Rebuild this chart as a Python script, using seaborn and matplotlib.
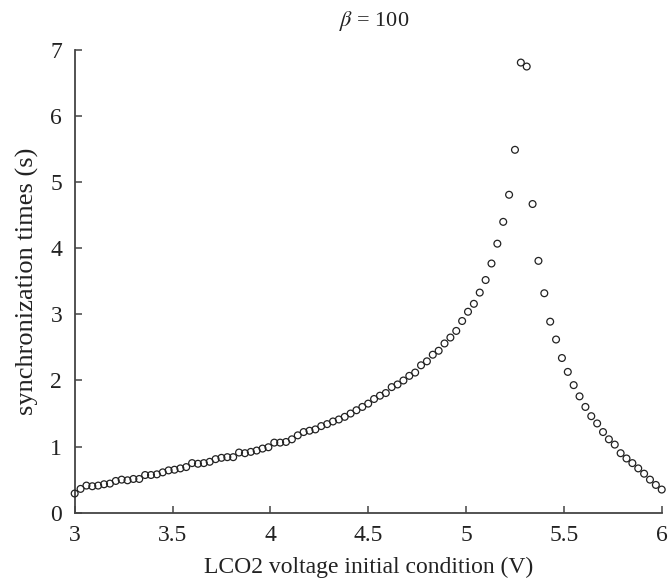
import matplotlib
matplotlib.use("Agg")
import matplotlib.pyplot as plt
import seaborn as sns
import pandas as pd

# ---- data ----
voltage = [
    3.00, 3.03, 3.06, 3.09, 3.12, 3.15, 3.18, 3.21, 3.24, 3.27,
    3.30, 3.33, 3.36, 3.39, 3.42, 3.45, 3.48, 3.51, 3.54, 3.57,
    3.60, 3.63, 3.66, 3.69, 3.72, 3.75, 3.78, 3.81, 3.84, 3.87,
    3.90, 3.93, 3.96, 3.99, 4.02, 4.05, 4.08, 4.11, 4.14, 4.17,
    4.20, 4.23, 4.26, 4.29, 4.32, 4.35, 4.38, 4.41, 4.44, 4.47,
    4.50, 4.53, 4.56, 4.59, 4.62, 4.65, 4.68, 4.71, 4.74, 4.77,
    4.80, 4.83, 4.86, 4.89, 4.92, 4.95, 4.98, 5.01, 5.04, 5.07,
    5.10, 5.13, 5.16, 5.19, 5.22, 5.25, 5.28, 5.31, 5.34, 5.37,
    5.40, 5.43, 5.46, 5.49, 5.52, 5.55, 5.58, 5.61, 5.64, 5.67,
    5.70, 5.73, 5.76, 5.79, 5.82, 5.85, 5.88, 5.91, 5.94, 5.97,
    6.00,
]
sync_time = [
    0.29, 0.36, 0.41, 0.40, 0.41, 0.43, 0.44, 0.48, 0.50, 0.49,
    0.51, 0.51, 0.57, 0.57, 0.58, 0.61, 0.64, 0.65, 0.67, 0.69,
    0.75, 0.74, 0.75, 0.77, 0.81, 0.83, 0.84, 0.84, 0.91, 0.90,
    0.92, 0.94, 0.97, 0.99, 1.06, 1.06, 1.07, 1.11, 1.17, 1.22,
    1.24, 1.26, 1.31, 1.34, 1.38, 1.41, 1.45, 1.50, 1.55, 1.60,
    1.65, 1.72, 1.77, 1.81, 1.90, 1.94, 2.00, 2.07, 2.12, 2.23,
    2.29, 2.39, 2.45, 2.56, 2.65, 2.75, 2.90, 3.04, 3.16, 3.33,
    3.52, 3.77, 4.07, 4.40, 4.81, 5.49, 6.81, 6.75, 4.67, 3.81,
    3.32, 2.89, 2.62, 2.34, 2.13, 1.93, 1.76, 1.60, 1.46, 1.35,
    1.22, 1.11, 1.03, 0.90, 0.82, 0.75, 0.67, 0.59, 0.50, 0.42,
    0.35,
]
x_ticks = [3, 3.5, 4, 4.5, 5, 5.5, 6]
x_tick_labels = ["3", "3.5", "4", "4.5", "5", "5.5", "6"]
y_ticks = [0, 1, 2, 3, 4, 5, 6, 7]
y_tick_labels = ["0", "1", "2", "3", "4", "5", "6", "7"]

df = pd.DataFrame({"voltage": voltage, "time": sync_time})

sns.set_theme(style="ticks")
plt.rcParams["font.family"] = ["Liberation Serif", "DejaVu Serif"]
plt.rcParams["mathtext.fontset"] = "stix"

fig = plt.figure(figsize=(6.68, 5.87), dpi=100)
ax = fig.add_axes([0.1118, 0.1266, 0.8788, 0.7882])

sns.scatterplot(data=df, x="voltage", y="time", marker="o", s=24,
                facecolor="none", edgecolor="#222222", linewidth=0.9,
                ax=ax, legend=False, clip_on=False, zorder=3)

ax.set_xlim(3, 6)
ax.set_ylim(0, 7)
ax.set_xticks(x_ticks)
ax.set_xticklabels(x_tick_labels)
ax.set_yticks(y_ticks)
ax.set_yticklabels(y_tick_labels)

for side in ("top", "right"):
    ax.spines[side].set_visible(False)
for side in ("left", "bottom"):
    ax.spines[side].set_color("#444444")
    ax.spines[side].set_linewidth(1.3)

ax.tick_params(axis="both", direction="in", length=5, width=1.1,
               color="#444444", labelsize=17, labelcolor="#222222", pad=9)

ax.set_xlabel("LCO2 voltage initial condition (V)", fontsize=17,
              color="#222222", labelpad=8)
ax.set_ylabel("synchronization times (s)", fontsize=19,
              color="#222222", labelpad=8)

fig.text(0.56, 0.965, r"$\beta$ = 100", ha="center", va="center",
         fontsize=16, color="#222222")

fig.savefig("out.png", dpi=100, facecolor="white")
